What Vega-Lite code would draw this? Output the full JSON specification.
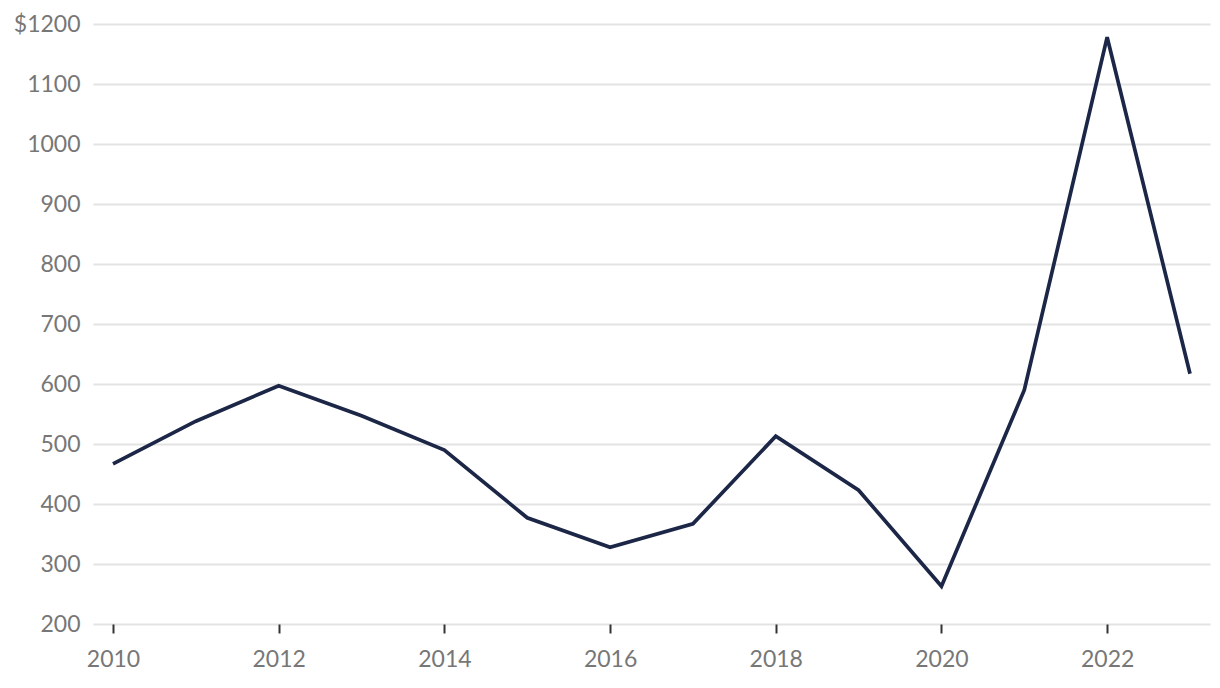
{
  "$schema": "https://vega.github.io/schema/vega-lite/v6.json",
  "width": 1117,
  "height": 600,
  "autosize": {"type": "none"},
  "padding": {"left": 93, "top": 24, "right": 10, "bottom": 64},
  "background": "white",
  "config": {"view": {"stroke": null}, "font": "Lato"},
  "data": {"values": [
    {"year": 2010, "value": 467},
    {"year": 2011, "value": 538},
    {"year": 2012, "value": 597},
    {"year": 2013, "value": 547},
    {"year": 2014, "value": 490},
    {"year": 2015, "value": 377},
    {"year": 2016, "value": 328},
    {"year": 2017, "value": 367},
    {"year": 2018, "value": 513},
    {"year": 2019, "value": 423},
    {"year": 2020, "value": 263},
    {"year": 2021, "value": 590},
    {"year": 2022, "value": 1178},
    {"year": 2023, "value": 617}
  ]},
  "mark": {"type": "line", "color": "#1c2747", "strokeWidth": 3.7, "strokeJoin": "miter"},
  "encoding": {
    "x": {
      "field": "year", "type": "quantitative",
      "scale": {"domain": [2010, 2023], "padding": 20, "nice": false, "zero": false},
      "axis": {
        "values": [2010, 2012, 2014, 2016, 2018, 2020, 2022],
        "format": "d", "title": null, "grid": false, "domain": false,
        "ticks": true, "tickSize": 9, "tickWidth": 2, "tickColor": "#333333",
        "labelFontSize": 23, "labelColor": "#777777", "labelPadding": 15, "labelFont": "Lato"
      }
    },
    "y": {
      "field": "value", "type": "quantitative",
      "scale": {"domain": [200, 1200], "nice": false, "zero": false},
      "axis": {
        "values": [200, 300, 400, 500, 600, 700, 800, 900, 1000, 1100, 1200],
        "format": "d",
        "labelExpr": "datum.value == 1200 ? '$1200' : datum.label",
        "title": null, "grid": true, "gridColor": "#e3e3e3", "gridWidth": 2,
        "domain": false, "ticks": false, "labelPadding": 13,
        "labelFontSize": 23, "labelColor": "#777777", "labelFont": "Lato"
      }
    }
  }
}
